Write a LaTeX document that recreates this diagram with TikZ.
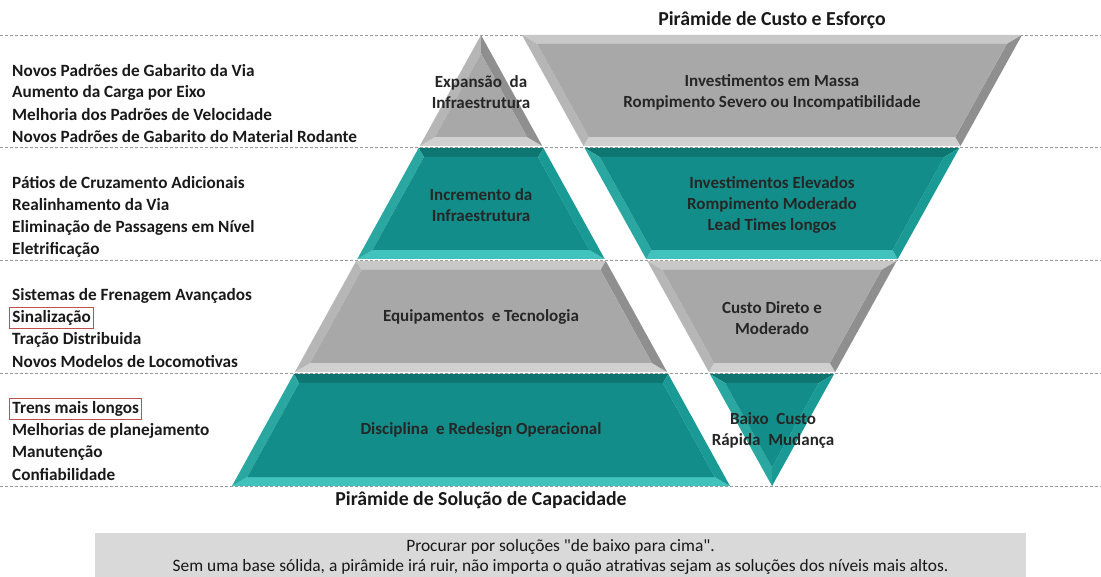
\documentclass[tikz,border=0pt]{standalone}
\usepackage{fontspec}
\setmainfont{Carlito}
\definecolor{tealC}{HTML}{138D89}
\definecolor{tealT}{HTML}{0E7571}
\definecolor{tealB}{HTML}{42C2BC}
\definecolor{tealL}{HTML}{2BA7A2}
\definecolor{tealR}{HTML}{1A9A95}
\definecolor{grayC}{HTML}{A8A8A8}
\definecolor{grayT}{HTML}{C8C8C8}
\definecolor{grayB}{HTML}{D0D0D0}
\definecolor{grayL}{HTML}{B6B6B6}
\definecolor{grayR}{HTML}{8F8F8F}
\definecolor{hlred}{HTML}{C0504D}
\definecolor{notebg}{HTML}{D9D9D9}

% Bevelled layer: #1 centre x, #2 top y, #3 bottom y,
% #4 half width at top, #5 half width at bottom, #6 palette (teal/gray)
\newcommand\bvlayer[6]{%
  \pgfmathsetmacro\bvK{(#5-#4)/(#3-#2)}%
  \pgfmathsetmacro\bvO{1.14*\bvD}%
  \pgfmathsetmacro\bvYt{#2+\bvD}%
  \pgfmathsetmacro\bvYb{#3-\bvD}%
  \pgfmathsetmacro\bvYz{#2+(\bvO-#4)/\bvK}%
  \ifdim \bvK pt>0pt
    \pgfmathsetmacro\bvYt{max(\bvYt,\bvYz)}%
  \else
    \pgfmathsetmacro\bvYb{min(\bvYb,\bvYz)}%
  \fi
  \pgfmathsetmacro\bvWt{max(0,#4+\bvK*(\bvYt-#2)-\bvO)}%
  \pgfmathsetmacro\bvWb{max(0,#4+\bvK*(\bvYb-#2)-\bvO)}%
  \fill[#6T] (#1-#4,#2) -- (#1+#4,#2) -- (#1+\bvWt,\bvYt) -- (#1-\bvWt,\bvYt) -- cycle;
  \fill[#6B] (#1-\bvWb,\bvYb) -- (#1+\bvWb,\bvYb) -- (#1+#5,#3) -- (#1-#5,#3) -- cycle;
  \fill[#6L] (#1-#4,#2) -- (#1-\bvWt,\bvYt) -- (#1-\bvWb,\bvYb) -- (#1-#5,#3) -- cycle;
  \fill[#6R] (#1+#4,#2) -- (#1+\bvWt,\bvYt) -- (#1+\bvWb,\bvYb) -- (#1+#5,#3) -- cycle;
  \fill[#6C] (#1-\bvWt,\bvYt) -- (#1+\bvWt,\bvYt) -- (#1+\bvWb,\bvYb) -- (#1-\bvWb,\bvYb) -- cycle;
}
\def\bvD{9}

\begin{document}
\begin{tikzpicture}[x=1pt,y=-1pt,
  item/.style={anchor=west, font=\fontsize{17.2}{20}\selectfont\bfseries, text=black!90, inner sep=0pt},
  hl/.style={draw=hlred, line width=0.9pt, inner sep=3pt},
  lbl/.style={align=center, font=\fontsize{17}{21}\selectfont\bfseries, text=black!85},
  title/.style={font=\fontsize{19.8}{22}\selectfont\bfseries, text=black!90},
  guide/.style={draw=black!40, dash pattern=on 3pt off 2pt, line width=0.6pt},
  note/.style={align=center, font=\fontsize{17.4}{20}\selectfont, text=black!90}]
\useasboundingbox (0,0) rectangle (1101,577);

% level guides
\foreach \y in {35,147,260,373,486}
  \draw[guide] (0,\y) -- (1101,\y);

% capacity pyramid (left)
\bvlayer{481}{35}{146}{0}{61.3}{gray}
\bvlayer{481}{148}{259}{62.4}{123.7}{teal}
\bvlayer{481}{261}{372}{124.8}{186.1}{gray}
\bvlayer{481}{374}{486}{187.2}{249}{teal}

% cost and effort pyramid (right, inverted)
\bvlayer{772}{35}{146}{250}{188.5}{gray}
\bvlayer{772}{148}{259}{187.4}{125.8}{teal}
\bvlayer{772}{261}{372}{124.7}{63.2}{gray}
\bvlayer{772}{374}{486}{62.1}{0}{teal}

% layer labels
\node[lbl] (c1) at (481,92) {Expansão\ \ da\\Infraestrutura};
\node[lbl] (c2) at (481,205) {Incremento da\\Infraestrutura};
\node[lbl] (c3) at (481,317) {Equipamentos\ \ e Tecnologia};
\node[lbl] (c4) at (481,430) {Disciplina\ \ e Redesign Operacional};

\node[lbl] (e1) at (772,92) {Investimentos em Massa\\Rompimento Severo ou Incompatibilidade};
\node[lbl] (e2) at (772,205) {Investimentos Elevados\\Rompimento Moderado\\Lead Times longos};
\node[lbl] (e3) at (772,318) {Custo Direto e\\Moderado};
\node[lbl] (e4) at (773,430) {Baixo\ \ Custo\\Rápida\ \ Mudança};

% titles
\node[title] (tcost) at (772,20) {Pirâmide de Custo e Esforço};
\node[title] (tcap) at (481,500) {Pirâmide de Solução de Capacidade};

% solution lists
\node[item] (a1) at (12,71) {Novos Padrões de Gabarito da Via};
\node[item] (a2) at (12,93) {Aumento da Carga por Eixo};
\node[item] (a3) at (12,115) {Melhoria dos Padrões de Velocidade};
\node[item] (a4) at (12,137) {Novos Padrões de Gabarito do Material Rodante};

\node[item] (b1) at (12,183) {Pátios de Cruzamento Adicionais};
\node[item] (b2) at (12,205) {Realinhamento da Via};
\node[item] (b3) at (12,228) {Eliminação de Passagens em Nível};
\node[item] (b4) at (12,250) {Eletrificação};

\node[item] (d1) at (12,296) {Sistemas de Frenagem Avançados};
\node[item,hl] (d2) at (9,318) {Sinalização};
\node[item] (d3) at (12,340) {Tração Distribuida};
\node[item] (d4) at (12,362) {Novos Modelos de Locomotivas};

\node[item,hl] (f1) at (9,409) {Trens mais longos};
\node[item] (f2) at (12,431) {Melhorias de planejamento};
\node[item] (f3) at (12,453) {Manutenção};
\node[item] (f4) at (12,475) {Confiabilidade};

% closing note
\fill[notebg] (95,533) rectangle (1026,577);
\node[note] (n1) at (560.5,547) {Procurar por soluções \textquotedbl de baixo para cima\textquotedbl .};
\node[note] (n2) at (560.5,567) {Sem uma base sólida, a pirâmide irá ruir, não importa o quão atrativas sejam as soluções dos níveis mais altos.};
\end{tikzpicture}
\end{document}
